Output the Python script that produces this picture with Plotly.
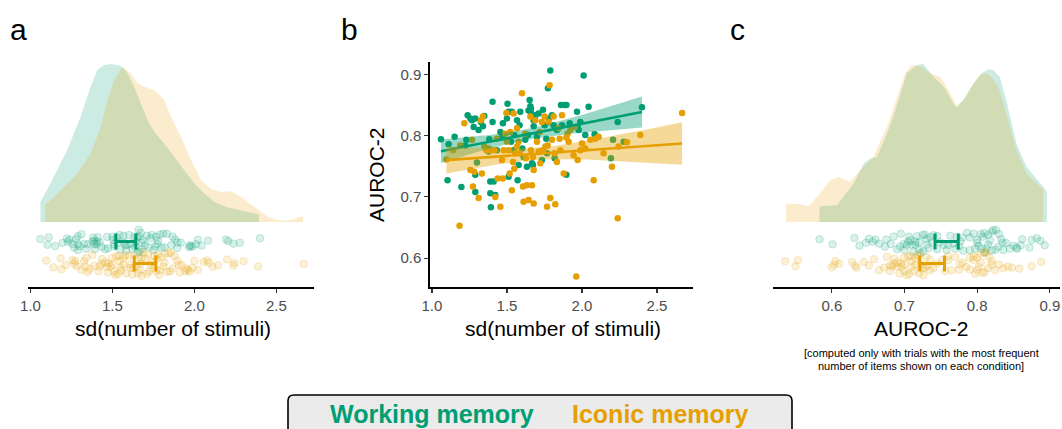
import numpy as np
import plotly.graph_objects as go

W, H = 1062, 429
GREEN = "#009E73"
ORANGE = "#E69F00"

# ---------------- Panel b data (per participant) ----------------
wm_sd = [1.06,1.111,1.151,1.104,1.196,1.222,1.229,1.238,1.256,1.267,1.289,1.278,1.311,1.327,1.289,1.289,1.34,1.349,1.378,1.382,
         1.389,1.389,1.393,1.404,1.404,1.411,1.422,1.433,1.456,1.473,1.5,1.504,1.511,1.511,1.527,1.533,1.549,1.567,1.571,1.584,
         1.589,1.602,1.611,1.622,1.633,1.64,1.644,1.651,1.656,1.66,1.662,1.667,1.673,1.678,1.689,1.7,1.722,1.733,1.74,1.751,
         1.762,1.767,1.773,1.778,1.789,1.8,1.811,1.818,1.833,1.86,1.867,1.882,1.896,1.896,1.918,1.967,1.971,1.978,1.989,2.011,
         2.022,2.044,2.193,2.207,2.278,2.4,2.238,1.3,2.084,1.467,1.544,1.578,1.678,1.711]
wm_auroc = [0.794,0.786,0.798,0.727,0.716,0.784,0.793,0.833,0.828,0.825,0.828,0.814,0.809,0.822,0.736,0.708,0.815,0.832,0.774,0.794,
            0.725,0.706,0.683,0.855,0.822,0.725,0.703,0.776,0.806,0.82,0.828,0.852,0.839,0.733,0.79,0.839,0.801,0.825,0.727,0.817,
            0.839,0.779,0.765,0.793,0.749,0.801,0.841,0.858,0.848,0.844,0.836,0.755,0.752,0.825,0.833,0.798,0.774,0.76,0.842,0.817,
            0.795,0.771,0.877,0.828,0.906,0.833,0.817,0.763,0.809,0.85,0.817,0.85,0.85,0.736,0.82,0.839,0.814,0.809,0.822,0.898,
            0.801,0.847,0.763,0.793,0.79,0.846,0.822,0.756,0.802,0.797,0.776,0.752,0.815,0.836]
im_sd = [1.096,1.184,1.216,1.267,1.273,1.282,1.311,1.327,1.34,1.333,1.362,1.378,1.389,1.416,1.422,1.438,1.456,1.467,1.473,1.478,
         1.489,1.496,1.5,1.511,1.522,1.533,1.54,1.544,1.549,1.556,1.567,1.578,1.584,1.6,1.607,1.611,1.622,1.627,1.633,1.644,
         1.656,1.66,1.667,1.673,1.678,1.689,1.7,1.711,1.718,1.733,1.74,1.751,1.756,1.767,1.771,1.778,1.784,1.789,1.8,1.811,
         1.818,1.822,1.833,1.844,1.851,1.867,1.878,1.896,1.904,1.922,1.944,1.951,1.962,1.971,1.989,2.0,2.022,2.056,2.078,2.089,
         2.111,2.144,2.2,2.238,2.244,2.3,2.389,2.667,1.189,1.256,1.349,1.433,1.518,1.567,1.678,1.722,1.856,1.911,1.14]
im_auroc = [0.761,0.653,0.82,0.793,0.717,0.741,0.698,0.825,0.831,0.738,0.776,0.779,0.776,0.776,0.7,0.73,0.684,0.76,0.73,0.776,
            0.803,0.837,0.79,0.776,0.806,0.711,0.757,0.836,0.746,0.771,0.782,0.79,0.771,0.869,0.717,0.692,0.803,0.763,0.719,0.695,
            0.831,0.776,0.719,0.765,0.689,0.825,0.79,0.774,0.806,0.822,0.776,0.831,0.782,0.684,0.784,0.822,0.882,0.698,0.793,0.831,
            0.771,0.688,0.757,0.812,0.795,0.833,0.738,0.797,0.803,0.809,0.768,0.814,0.57,0.76,0.776,0.787,0.779,0.793,0.727,0.795,
            0.798,0.771,0.749,0.665,0.782,0.789,0.801,0.837,0.784,0.744,0.782,0.795,0.738,0.812,0.744,0.755,0.776,0.79,0.776]

# ---------------- Panel c data (AUROC-2, most frequent set size) ----------------
wm_auroc_c = [0.583,0.601,0.631,0.638,0.647,0.651,0.656,0.673,0.675,0.681,0.685,0.69,0.694,0.699,0.703,0.706,0.708,0.712,0.715,0.717,
              0.72,0.722,0.726,0.728,0.731,0.733,0.735,0.738,0.74,0.745,0.749,0.754,0.758,0.763,0.767,0.772,0.775,0.777,0.781,0.786,
              0.79,0.795,0.797,0.8,0.802,0.806,0.808,0.81,0.813,0.815,0.818,0.82,0.822,0.826,0.829,0.833,0.836,0.84,0.845,0.85,
              0.854,0.862,0.872,0.882,0.887,0.893,0.705,0.71,0.715,0.72,0.725,0.73,0.79,0.8,0.805,0.81,0.815,0.82,0.825,0.66,
              0.665,0.745,0.76,0.77,0.78,0.83,0.835,0.7,0.695,0.855,0.86,0.875]
im_auroc_c = [0.536,0.55,0.553,0.6,0.603,0.605,0.61,0.628,0.632,0.634,0.644,0.651,0.658,0.665,0.672,0.676,0.68,0.683,0.686,0.69,
              0.693,0.696,0.699,0.7,0.703,0.706,0.708,0.71,0.713,0.715,0.718,0.72,0.722,0.726,0.728,0.731,0.735,0.74,0.745,0.752,
              0.756,0.76,0.765,0.77,0.776,0.78,0.785,0.79,0.795,0.797,0.8,0.802,0.805,0.807,0.81,0.813,0.816,0.82,0.825,0.83,
              0.836,0.842,0.848,0.858,0.875,0.888,0.7,0.705,0.71,0.715,0.72,0.725,0.695,0.69,0.8,0.805,0.81,0.795,0.815,0.79,
              0.73,0.735,0.685,0.68,0.76,0.775,0.82]

# ---------------- Densities (relative height) ----------------
dens_a_wm_x = [1.061,1.122,1.224,1.306,1.367,1.408,1.449,1.49,1.531,1.561,1.592,1.633,1.673,1.714,1.755,1.816,1.878,1.939,2.0,2.061,2.122,2.204,2.286,2.394]
dens_a_wm_h = [0.127,0.243,0.455,0.666,0.856,0.962,0.994,1.0,0.994,0.981,0.941,0.856,0.751,0.645,0.571,0.497,0.412,0.328,0.243,0.18,0.127,0.091,0.074,0.049]
dens_a_im_x = [1.088,1.184,1.286,1.367,1.429,1.469,1.51,1.561,1.612,1.653,1.694,1.755,1.816,1.857,1.918,1.98,2.041,2.102,2.163,2.224,2.286,2.367,2.449,2.531,2.592,2.663]
dens_a_im_h = [0.106,0.201,0.307,0.433,0.602,0.77,0.899,0.981,0.941,0.877,0.856,0.835,0.772,0.666,0.539,0.391,0.264,0.211,0.19,0.195,0.159,0.095,0.032,0.006,0.015,0.036]
dens_c_wm_x = [0.583,0.607,0.63,0.644,0.653,0.662,0.676,0.689,0.703,0.717,0.726,0.74,0.754,0.767,0.772,0.781,0.795,0.806,0.815,0.822,0.831,0.84,0.854,0.868,0.882,0.891,0.896]
dens_c_wm_h = [0.099,0.106,0.243,0.37,0.402,0.412,0.56,0.729,0.941,0.994,1.0,0.92,0.856,0.751,0.725,0.772,0.877,0.941,0.966,0.962,0.92,0.772,0.497,0.349,0.275,0.222,0.19]
dens_c_im_x = [0.537,0.552,0.568,0.584,0.598,0.609,0.625,0.639,0.657,0.676,0.689,0.701,0.71,0.721,0.735,0.749,0.758,0.772,0.781,0.795,0.804,0.813,0.822,0.831,0.84,0.854,0.868,0.882,0.891]
dens_c_im_h = [0.116,0.116,0.099,0.18,0.264,0.285,0.254,0.328,0.412,0.603,0.772,0.941,0.994,0.987,0.941,0.92,0.856,0.734,0.772,0.877,0.93,0.941,0.909,0.835,0.687,0.455,0.307,0.243,0.211]

# ---------------- Summary bars (mean and interval) ----------------
a_wm_mean, a_wm_half = 1.582, 0.061
a_im_mean, a_im_half = 1.699, 0.066
c_wm_mean, c_wm_half = 0.758, 0.016
c_im_mean, c_im_half = 0.738, 0.017

x_ticks_sd = [1.0, 1.5, 2.0, 2.5]
y_ticks_auroc = [0.6, 0.7, 0.8, 0.9]
x_ticks_c = [0.6, 0.7, 0.8, 0.9]

def rgba(hexc, a):
    h = hexc.lstrip("#")
    return f"rgba({int(h[0:2],16)},{int(h[2:4],16)},{int(h[4:6],16)},{a})"

def px(x):
    return x / W

def py(y):
    return 1 - y / H

FONT = "Liberation Sans, Arial, sans-serif"
fig = go.Figure()

# strip panel geometry: baseline at 222px, peak (h=1) at 64px, axis at 287px
unit = 222 - 64
yr_strip = [-(287 - 222) / unit, (222 - 60) / unit]
wm_row = -(241.5 - 222) / unit
im_row = -(263.5 - 222) / unit

def add_density(xs, hs, color, xa, ya):
    fig.add_trace(go.Scatter(x=[xs[0]] + list(xs) + [xs[-1]], y=[0] + list(hs) + [0],
                             fill="toself", fillcolor=rgba(color, 0.2), mode="lines",
                             line=dict(width=0, color="rgba(0,0,0,0)"), hoverinfo="skip",
                             showlegend=False, xaxis=xa, yaxis=ya))

def add_strip(vals, yc, color, xa, ya):
    fig.add_trace(go.Box(x=vals, y0=yc, orientation="h", boxpoints="all", jitter=1, pointpos=0,
                         width=0.16, fillcolor="rgba(0,0,0,0)",
                         line=dict(width=0, color="rgba(0,0,0,0)"),
                         marker=dict(size=7.5, color=rgba(color, 0.15), line=dict(width=1, color=rgba(color, 0.2))),
                         hoverinfo="skip", showlegend=False, xaxis=xa, yaxis=ya))

def add_hbar(mean, half, yc, color, xa, ya):
    fig.add_trace(go.Scatter(x=[mean], y=[yc], mode="markers",
                             marker=dict(size=1, color="rgba(0,0,0,0)"),
                             error_x=dict(type="data", array=[half], color=color, thickness=3, width=8),
                             hoverinfo="skip", showlegend=False, xaxis=xa, yaxis=ya))

# Panel a
add_density(dens_a_wm_x, dens_a_wm_h, GREEN, "x", "y")
add_density(dens_a_im_x, dens_a_im_h, ORANGE, "x", "y")
add_strip(wm_sd, wm_row, GREEN, "x", "y")
add_strip(im_sd, im_row, ORANGE, "x", "y")
add_hbar(a_wm_mean, a_wm_half, wm_row, GREEN, "x", "y")
add_hbar(a_im_mean, a_im_half, im_row, ORANGE, "x", "y")

# Panel c
add_density(dens_c_wm_x, dens_c_wm_h, GREEN, "x3", "y3")
add_density(dens_c_im_x, dens_c_im_h, ORANGE, "x3", "y3")
add_strip(wm_auroc_c, wm_row, GREEN, "x3", "y3")
add_strip(im_auroc_c, im_row, ORANGE, "x3", "y3")
add_hbar(c_wm_mean, c_wm_half, wm_row, GREEN, "x3", "y3")
add_hbar(c_im_mean, c_im_half, im_row, ORANGE, "x3", "y3")

# Panel b: points
for xs, ys, col in [(wm_sd, wm_auroc, GREEN), (im_sd, im_auroc, ORANGE)]:
    fig.add_trace(go.Scatter(x=xs, y=ys, mode="markers", marker=dict(size=6.5, color=col),
                             hoverinfo="skip", showlegend=False, xaxis="x2", yaxis="y2"))

# Panel b: linear fits with 95% CI
for xs, ys, col in [(wm_sd, wm_auroc, GREEN), (im_sd, im_auroc, ORANGE)]:
    xa = np.asarray(xs); ya = np.asarray(ys)
    n = len(xa)
    b1, b0 = np.polyfit(xa, ya, 1)
    resid = ya - (b0 + b1 * xa)
    s = np.sqrt(np.sum(resid ** 2) / (n - 2))
    sxx = np.sum((xa - xa.mean()) ** 2)
    grid = np.linspace(xa.min(), xa.max(), 80)
    fit = b0 + b1 * grid
    se = s * np.sqrt(1.0 / n + (grid - xa.mean()) ** 2 / sxx)
    t = 1.986
    fig.add_trace(go.Scatter(x=np.concatenate([grid, grid[::-1]]),
                             y=np.concatenate([fit + t * se, (fit - t * se)[::-1]]),
                             fill="toself", fillcolor=rgba(col, 0.4), mode="lines",
                             line=dict(width=0, color="rgba(0,0,0,0)"), hoverinfo="skip",
                             showlegend=False, xaxis="x2", yaxis="y2"))
    fig.add_trace(go.Scatter(x=grid, y=fit, mode="lines", line=dict(color=col, width=2.6),
                             hoverinfo="skip", showlegend=False, xaxis="x2", yaxis="y2"))

axis_common = dict(showline=True, linecolor="black", linewidth=1.6, ticks="outside", ticklen=4,
                   tickwidth=1.2, tickcolor="#333333", showgrid=False, zeroline=False, automargin=False,
                   tickfont=dict(family=FONT, size=15, color="#4D4D4D"), tickformat=".1f")

fig.update_layout(
    width=W, height=H, margin=dict(l=0, r=0, t=0, b=0, pad=0, autoexpand=False),
    paper_bgcolor="white", plot_bgcolor="rgba(0,0,0,0)", boxmode="overlay",
    font=dict(family=FONT),
    xaxis=dict(domain=[px(28), px(314)], range=[0.985, 2.73], tickvals=x_ticks_sd, anchor="y", **axis_common),
    yaxis=dict(domain=[py(287), py(60)], range=yr_strip, visible=False, anchor="x", automargin=False),
    xaxis2=dict(domain=[px(430), px(693)], range=[0.987, 2.74], tickvals=x_ticks_sd, anchor="y2", **axis_common),
    yaxis2=dict(domain=[py(287), py(62)], range=[0.553, 0.92], tickvals=y_ticks_auroc, anchor="x2", **axis_common),
    xaxis3=dict(domain=[px(773), px(1060)], range=[0.519, 0.914], tickvals=x_ticks_c, anchor="y3", **axis_common),
    yaxis3=dict(domain=[py(287), py(60)], range=yr_strip, visible=False, anchor="x3", automargin=False),
)

ann = []
def text(x, y, s, size, color="black", bold=False, angle=0):
    ann.append(dict(x=px(x), y=py(y), xref="paper", yref="paper", text=f"<b>{s}</b>" if bold else s,
                    showarrow=False, textangle=angle, xanchor="center", yanchor="middle",
                    font=dict(family=FONT, size=size, color=color)))

text(18, 30, "a", 30)
text(349, 30, "b", 30)
text(737, 30, "c", 30)
text(173, 328, "sd(number of stimuli)", 21)
text(563, 328, "sd(number of stimuli)", 21)
text(376, 175, "AUROC-2", 21, angle=-90)
text(921, 328, "AUROC-2", 21)
text(921, 353, "[computed only with trials with the most frequent", 11)
text(921, 366, "number of items shown on each condition]", 11)
text(432, 414, "Working memory", 25, color=GREEN, bold=True)
text(661, 414, "Iconic memory", 25, color=ORANGE, bold=True)
fig.update_layout(annotations=ann)

# legend box with rounded top corners
x0, x1, yt, yb = px(288), px(792), py(395), py(445)
rx, ry = 6 / W, 6 / H
path = (f"M {x0},{yb} L {x0},{yt - ry} Q {x0},{yt} {x0 + rx},{yt} L {x1 - rx},{yt} "
        f"Q {x1},{yt} {x1},{yt - ry} L {x1},{yb} Z")
fig.add_shape(type="path", path=path, xref="paper", yref="paper", fillcolor="#EBEBEB",
              line=dict(color="black", width=1.6), layer="below")

fig.write_html("out.html", config={"displayModeBar": False, "staticPlot": True},
               post_script="document.body.style.margin='0';document.body.style.overflow='hidden';")
